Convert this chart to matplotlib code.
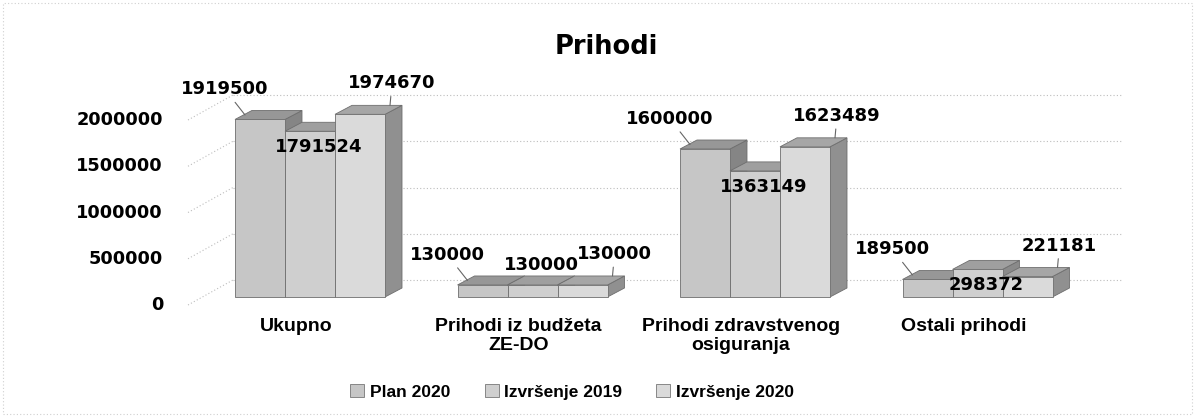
import matplotlib
matplotlib.use("Agg")
import matplotlib.pyplot as plt
from matplotlib.patches import Rectangle, Polygon

categories = ["Ukupno", "Prihodi iz budžeta\nZE-DO", "Prihodi zdravstvenog\nosiguranja", "Ostali prihodi"]
series = ["Plan 2020", "Izvršenje 2019", "Izvršenje 2020"]
plan_2020 = [1919500, 130000, 1600000, 189500]
izvrsenje_2019 = [1791524, 130000, 1363149, 298372]
izvrsenje_2020 = [1974670, 130000, 1623489, 221181]
yticks = [0, 500000, 1000000, 1500000, 2000000]

W, H = 1195, 417
fig = plt.figure(figsize=(W / 100, H / 100), dpi=100)

# pixel scale of the plot area
ppu_x = 222.5          # px per category
ppu_y = 92.5e-6        # px per unit of value
x0_px, y0_px = 310, 297  # pixel of category 0 / value 0
ax_l, ax_r, ax_t, ax_b = 140, 1160, 60, 320
ax = fig.add_axes([ax_l / W, 1 - ax_b / H, (ax_r - ax_l) / W, (ax_b - ax_t) / H])
ax.set_xlim((ax_l - x0_px) / ppu_x, (ax_r - x0_px) / ppu_x)
ax.set_ylim((y0_px - ax_b) / ppu_y, (y0_px - ax_t) / ppu_y)
ax.axis("off")

def px(dx):
    return dx / ppu_x

def py(dy):
    return dy / ppu_y

cat_font = "Liberation Sans"

# back wall gridlines + left wall diagonals, tick labels at the front
grid_kw = dict(color="#bdbdbd", lw=0.8, ls=(0, (1, 2)), zorder=0)
for v in yticks:
    ax.plot([px(188 - x0_px), px(233 - x0_px)], [v - py(8), v + py(17)], **grid_kw)
    ax.plot([px(233 - x0_px), px(1122 - x0_px)], [v + py(17), v + py(17)], **grid_kw)
    ax.text(px(163 - x0_px), v - py(8), f"{v}", ha="right", va="center",
            fontsize=12.8, fontweight="bold", family="DejaVu Sans")

# pseudo 3D bars
w = px(50)
dx, dy = px(17), py(9)
front = ["#c6c6c6", "#cfcfcf", "#dadada"]
top = ["#979797", "#9f9f9f", "#a6a6a6"]
side = ["#858585", "#8a8a8a", "#909090"]
data = [plan_2020, izvrsenje_2019, izvrsenje_2020]

z = 2
for g in range(len(categories)):
    for s, vals in enumerate(data):
        v = vals[g]
        xl = g + (s - 1) * w - w / 2
        ax.add_patch(Polygon([(xl + w, 0), (xl + w + dx, dy), (xl + w + dx, v + dy), (xl + w, v)],
                             closed=True, fc=side[s], ec="#6e6e6e", lw=0.6, zorder=z))
        ax.add_patch(Polygon([(xl, v), (xl + w, v), (xl + w + dx, v + dy), (xl + dx, v + dy)],
                             closed=True, fc=top[s], ec="#6e6e6e", lw=0.6, zorder=z))
        ax.add_patch(Rectangle((xl, 0), w, v, fc=front[s], ec="#6e6e6e", lw=0.6, zorder=z))
        z += 1

# value labels
lbl_kw = dict(fontsize=13, fontweight="bold", family="DejaVu Sans", ha="center", va="center", zorder=50)
line_kw = dict(arrowstyle="-", color="#666666", lw=0.8, shrinkA=1, shrinkB=0)
for g in range(len(categories)):
    for s, vals in enumerate(data):
        v = vals[g]
        cx = g + (s - 1) * w
        if s == 0:
            ax.annotate(f"{v}", xy=(cx - w / 2 + px(10), v + dy / 2),
                        xytext=(cx + px(-35), v + py(30)), arrowprops=line_kw, **lbl_kw)
        elif s == 2:
            ax.annotate(f"{v}", xy=(cx + w / 2 + px(5), v + dy),
                        xytext=(cx + px(32), v + py(31)), arrowprops=line_kw, **lbl_kw)
        else:
            off = py(20) if v < 200000 else -py(16)
            ax.text(cx + dx / 2, v + off, f"{v}", **lbl_kw)

# category labels
for g, name in enumerate(categories):
    ax.text(g - px(14), -py(21), name, ha="center", va="top", fontsize=14,
            fontweight="bold", family=cat_font, linespacing=1.15)

fig.text(606 / W, 1 - 47 / H, "Prihodi", ha="center", va="center",
         fontsize=18.5, fontweight="bold", family="DejaVu Sans")

handles = [Rectangle((0, 0), 1, 1, fc=front[s], ec="#777777", lw=0.6) for s in range(3)]
fig.legend(handles, series, loc="center", bbox_to_anchor=(572 / W, 1 - 392 / H), ncol=3,
           frameon=False, prop=dict(family=cat_font, weight="bold", size=12.5),
           handlelength=0.8, handleheight=0.8, handletextpad=0.3, columnspacing=2.0)

fig.patches.append(Rectangle((3 / W, 3 / H), 1 - 6 / W, 1 - 6 / H, transform=fig.transFigure,
                             fill=False, ec="#d0d0d0", lw=0.8, ls=(0, (1, 2))))

fig.savefig("out.png", dpi=100)
